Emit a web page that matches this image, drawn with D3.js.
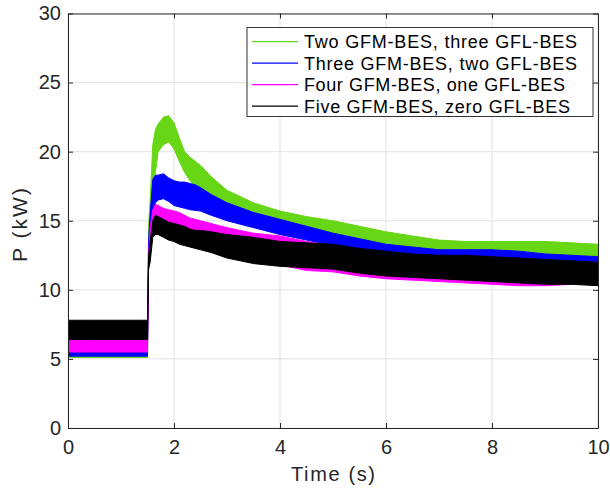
<!DOCTYPE html>
<html><head><meta charset="utf-8">
<script src="https://cdn.jsdelivr.net/npm/d3@7"></script>
<style>
html,body{margin:0;padding:0;background:#fff;}
text{font-family:"Liberation Sans",Arial,sans-serif;}
</style></head>
<body>
<svg id="chart" width="610" height="489"></svg>
<script>
// ---- data ----
const time = [0, 0.5, 1.0, 1.49, 1.5, 1.52, 1.55, 1.6, 1.65, 1.7, 1.8, 1.9, 2.0, 2.1, 2.2, 2.3, 2.4, 2.5, 2.7, 3.0, 3.5, 4.0, 4.5, 5.0, 5.5, 6.0, 6.5, 7.0, 7.5, 8.0, 8.5, 9.0, 9.5, 10];

const greenHi = [6.6,6.6,6.6,6.6,6.6,14.5,16.5,20.5,21.6,22.0,22.5,22.6,22.1,21.0,20.0,19.6,19.3,19.0,18.2,17.2,16.3,15.7,15.3,15.0,14.6,14.2,13.9,13.6,13.5,13.5,13.5,13.5,13.4,13.3];
const greenLo = [5.1,5.1,5.1,5.1,5.1,12.5,14.0,17.5,18.5,20.0,20.5,20.7,20.2,19.3,18.5,17.9,17.5,17.2,16.6,16.0,15.1,14.5,14.1,13.8,13.4,13.0,12.8,12.6,12.5,12.4,12.4,12.4,12.3,12.3];

const blueHi = [6.5,6.5,6.5,6.5,6.5,13.5,15.5,18.0,18.3,18.3,18.4,18.1,17.9,17.8,17.8,17.7,17.6,17.4,16.9,16.3,15.6,15.1,14.6,14.1,13.7,13.3,13.1,12.9,12.9,12.9,12.8,12.6,12.5,12.4];
const blueLo = [5.2,5.2,5.2,5.2,5.2,12.0,14.0,15.8,16.3,16.5,16.6,16.4,16.1,16.0,15.9,15.8,15.75,15.7,15.4,15.0,14.5,14.0,13.6,13.2,12.8,12.3,12.0,11.8,11.6,11.4,11.3,11.2,11.1,11.0];

const magentaHi = [7.0,7.0,7.0,7.0,7.0,12.5,14.5,15.8,16.2,16.1,15.9,15.8,15.7,15.6,15.4,15.2,15.1,15.0,14.8,14.5,14.1,13.9,13.5,13.2,12.9,12.6,12.4,12.3,12.2,12.1,12.1,12.0,12.0,12.0];
const magentaLo = [5.5,5.5,5.5,5.5,5.5,11.5,13.0,14.3,14.7,14.6,14.4,14.2,14.0,13.8,13.6,13.4,13.2,13.1,12.8,12.5,12.1,11.8,11.4,11.3,11.0,10.8,10.7,10.6,10.5,10.4,10.3,10.3,10.4,10.5];

const blackHi = [7.8,7.8,7.8,7.8,7.8,12.5,13.5,15.0,15.4,15.3,15.1,14.9,14.8,14.7,14.6,14.4,14.3,14.3,14.2,14.0,13.8,13.5,13.4,13.3,13.0,12.8,12.6,12.5,12.5,12.4,12.3,12.2,12.1,12.0];
const blackLo = [6.4,6.4,6.4,6.4,6.4,11.5,12.0,13.8,14.0,14.0,13.8,13.6,13.5,13.3,13.2,13.1,13.0,12.9,12.7,12.3,11.9,11.7,11.6,11.5,11.2,11.0,10.9,10.8,10.7,10.6,10.5,10.4,10.4,10.3];

const seriesNames = ["Two GFM-BES, three GFL-BES","Three GFM-BES, two GFL-BES","Four GFM-BES, one GFL-BES","Five GFM-BES, zero GFL-BES"];
const seriesColors = ["#66d615","#0000ff","#ff00ff","#000000"];
const seriesLo = [greenLo, blueLo, magentaLo, blackLo];
const seriesHi = [greenHi, blueHi, magentaHi, blackHi];

const xTicks = [0,2,4,6,8,10];
const yTicks = [0,5,10,15,20,25,30];
const xLabel = "Time (s)";
const yLabel = "P (kW)";

// ---- layout ----
const svg = d3.select("#chart");
const L = 68, R = 598, T = 13.5, B = 428;
const x = d3.scaleLinear().domain([0,10]).range([L,R]);
const y = d3.scaleLinear().domain([0,30]).range([B,T]);
const axisColor = "#262626";
const fs = 20;

// grid
const grid = svg.append("g");
grid.selectAll("line.gx").data(xTicks).enter().append("line")
  .attr("x1", d=>x(d)).attr("x2", d=>x(d)).attr("y1", T).attr("y2", B)
  .attr("stroke", "#e3e3e3").attr("stroke-width", 1);
grid.selectAll("line.gy").data(yTicks).enter().append("line")
  .attr("x1", L).attr("x2", R).attr("y1", d=>y(d)).attr("y2", d=>y(d))
  .attr("stroke", "#e3e3e3").attr("stroke-width", 1);

// data bands
svg.append("clipPath").attr("id","clp").append("rect")
  .attr("x",L).attr("y",T).attr("width",R-L).attr("height",B-T);
const plot = svg.append("g").attr("clip-path","url(#clp)");
seriesNames.forEach((name,i)=>{
  const pts = time.map((t,j)=>({t, lo: seriesLo[i][j], hi: seriesHi[i][j]}));
  const area = d3.area().x(d=>x(d.t)).y0(d=>y(d.lo)).y1(d=>y(d.hi));
  plot.append("path").attr("d", area(pts))
    .attr("fill", seriesColors[i]).attr("stroke", seriesColors[i]).attr("stroke-width", 1);
});

// axes
const xAxB = d3.axisBottom(x).tickValues(xTicks).tickSizeInner(-5).tickSizeOuter(0).tickPadding(12);
const gxb = svg.append("g").attr("transform",`translate(0,${B})`).call(xAxB);
const xAxT = d3.axisTop(x).tickValues(xTicks).tickSizeInner(-5).tickSizeOuter(0).tickFormat("");
const gxt = svg.append("g").attr("transform",`translate(0,${T})`).call(xAxT);
const yAxL = d3.axisLeft(y).tickValues(yTicks).tickSizeInner(-5).tickSizeOuter(0).tickPadding(7);
const gyl = svg.append("g").attr("transform",`translate(${L},0)`).call(yAxL);
const yAxR = d3.axisRight(y).tickValues(yTicks).tickSizeInner(-5).tickSizeOuter(0).tickFormat("");
const gyr = svg.append("g").attr("transform",`translate(${R},0)`).call(yAxR);
[gxb,gxt,gyl,gyr].forEach(g=>{
  g.select(".domain").attr("stroke", axisColor).attr("stroke-width",1);
  g.selectAll(".tick line").attr("stroke", axisColor);
  g.selectAll(".tick text").attr("fill", axisColor).style("font-size", fs+"px")
   .style("font-family",'"Liberation Sans",Arial,sans-serif');
});

// labels
svg.append("text").attr("x",(L+R)/2).attr("y",481).attr("text-anchor","middle")
  .attr("fill",axisColor).style("font-size",fs+"px")
  .attr("textLength",84).attr("lengthAdjust","spacing").text(xLabel);
svg.append("text").attr("transform",`translate(27,225) rotate(-90)`).attr("text-anchor","middle")
  .attr("fill",axisColor).style("font-size","21px")
  .attr("textLength",74).attr("lengthAdjust","spacing").text(yLabel);

// legend
const legendTextLen = [273, 273, 261, 266];
const lg = svg.append("g");
lg.append("rect").attr("x",247).attr("y",27.5).attr("width",346).attr("height",89)
  .attr("fill","#fff").attr("stroke","#333").attr("stroke-width",1);
seriesNames.forEach((name,i)=>{
  const cy = 41.7 + i*21.5;
  lg.append("line").attr("x1",252).attr("x2",298).attr("y1",cy).attr("y2",cy)
    .attr("stroke",seriesColors[i]).attr("stroke-width",1.2);
  lg.append("text").attr("x",304).attr("y",cy+6.5).attr("fill","#000")
    .attr("textLength", legendTextLen[i]).attr("lengthAdjust","spacing")
    .style("font-size","18px").text(name);
});
</script>
</body></html>
